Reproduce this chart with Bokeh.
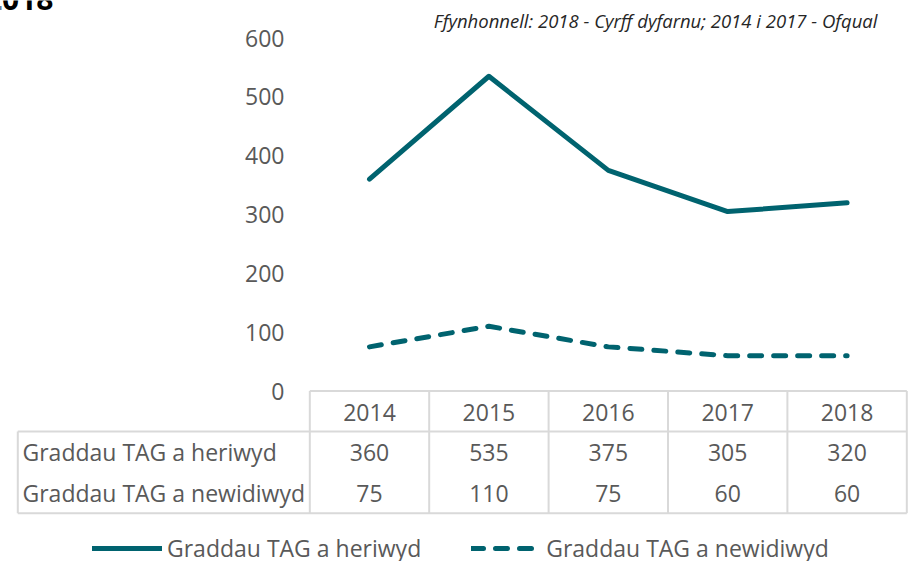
from bokeh.plotting import figure
from bokeh.models import Range1d, Legend, LegendItem
from bokeh.core.properties import value
from bokeh.embed import file_html
from bokeh.resources import INLINE

# ---- data ----
years = ["2014", "2015", "2016", "2017", "2018"]
heriwyd = [360, 535, 375, 305, 320]
newidiwyd = [75, 110, 75, 60, 60]
series_labels = ["Graddau TAG a heriwyd", "Graddau TAG a newidiwyd"]
yticks = [0, 100, 200, 300, 400, 500, 600]
source_text = "Ffynhonnell: 2018 - Cyrff dyfarnu; 2014 i 2017 - Ofqual"
title_text = "2018"

# ---- style ----
TEAL = "#00636f"
GREY = "#595959"
BORDER = "#d9d9d9"
FONT = value("Open Sans")
FS = "23px"

# pixel mapping helpers (window coords -> data coords)
COL0 = 309.3
COL = (906.3 - COL0) / 5.0
Y0 = 390.5
YK = 0.5883


def dx(wx):
    return (wx - COL0) / COL


def dy(wy):
    return (Y0 - wy) / YK


W, H = 914, 561
p = figure(width=W, height=H, output_backend="svg", toolbar_location=None,
           x_range=Range1d(dx(0), dx(W)), y_range=Range1d(dy(H), dy(0)),
           x_axis_location=None, y_axis_location=None, title=None,
           min_border=0, min_border_left=0, min_border_right=0,
           min_border_top=0, min_border_bottom=0)
p.grid.visible = False
p.outline_line_color = None
p.background_fill_color = "white"
p.border_fill_color = "white"

n = len(years)
xc = [i + 0.5 for i in range(n)]

# ---- lines ----
r1 = p.line(xc, heriwyd, line_color=TEAL, line_width=5, line_cap="round", line_join="round")
r2 = p.line(xc, newidiwyd, line_color=TEAL, line_width=5, line_cap="round",
            line_join="round", line_dash="12 12")

# ---- y tick labels ----
p.text(x=[dx(284)] * len(yticks), y=yticks, text=[str(t) for t in yticks],
       text_font=FONT, text_font_size=FS, text_color=GREY,
       text_align="right", text_baseline="middle")

# ---- data table ----
y_top = 0
y_hdr = dy(431)
y_bot = dy(512.7)
x_lab = dx(17.3)
x0s, y0s, x1s, y1s = [], [], [], []
for i in range(n + 1):
    x0s.append(i); y0s.append(y_top); x1s.append(i); y1s.append(y_bot)
x0s += [0, x_lab, x_lab, x_lab]
y0s += [y_top, y_hdr, y_bot, y_hdr]
x1s += [n, n, n, x_lab]
y1s += [y_top, y_hdr, y_bot, y_bot]
p.segment(x0=x0s, y0=y0s, x1=x1s, y1=y1s, line_color=BORDER, line_width=2)

p.text(x=xc, y=[dy(411.5)] * n, text=years, text_font=FONT, text_font_size=FS,
       text_color=GREY, text_align="center", text_baseline="middle")
p.text(x=xc, y=[dy(451.7)] * n, text=[str(v) for v in heriwyd], text_font=FONT,
       text_font_size=FS, text_color=GREY, text_align="center", text_baseline="middle")
p.text(x=xc, y=[dy(492.7)] * n, text=[str(v) for v in newidiwyd], text_font=FONT,
       text_font_size=FS, text_color=GREY, text_align="center", text_baseline="middle")
p.text(x=[dx(22)] * 2, y=[dy(451.7), dy(492.7)], text=series_labels, text_font=FONT,
       text_font_size=FS, text_color=GREY, text_align="left", text_baseline="middle")

# ---- source & title ----
p.text(x=[dx(877)], y=[dy(19.5)], text=[source_text], text_font=FONT,
       text_font_size="18.5px", text_font_style="italic", text_color="#262626",
       text_align="right", text_baseline="middle")
p.text(x=[dx(53)], y=[dy(-2)], text=[title_text], text_font=FONT,
       text_font_size="30px", text_font_style="bold", text_color="black",
       text_align="right", text_baseline="alphabetic")

# ---- legend ----
legend = Legend(items=[LegendItem(label=series_labels[0], renderers=[r1]),
                       LegendItem(label=series_labels[1], renderers=[r2])],
                orientation="horizontal", location=(92, -3),
                glyph_width=70, glyph_height=20, label_height=20,
                label_standoff=5, spacing=50, padding=0, margin=0,
                border_line_color=None, background_fill_alpha=0,
                label_text_font="Open Sans", label_text_font_size=FS,
                label_text_color=GREY)
p.add_layout(legend)

open("out.html", "w").write(file_html(p, INLINE))
